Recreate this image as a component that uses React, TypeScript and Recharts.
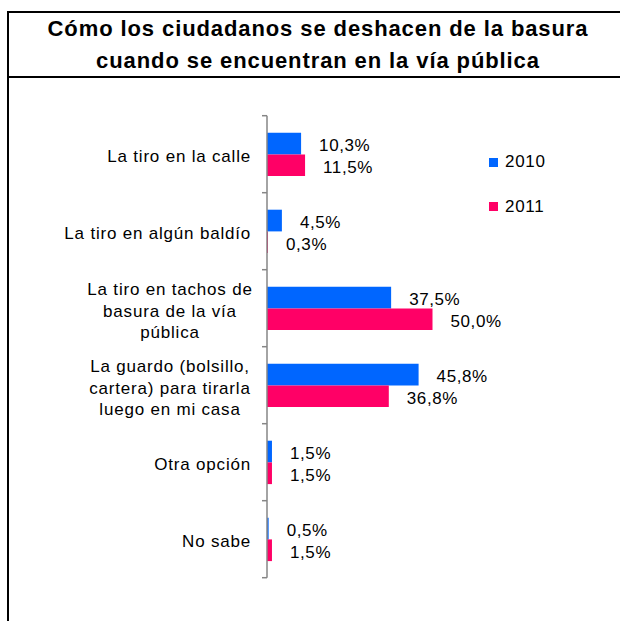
import React from 'react';
import { BarChart, Bar, XAxis, YAxis, Legend, LabelList } from 'recharts';

const titleLines = [
  'Cómo los ciudadanos se deshacen de la basura',
  'cuando se encuentran en la vía pública',
];
const categories = [
  'La tiro en la calle',
  'La tiro en algún baldío',
  'La tiro en tachos de\nbasura de la vía\npública',
  'La guardo (bolsillo,\ncartera) para tirarla\nluego en mi casa',
  'Otra opción',
  'No sabe',
];
const seriesNames = ['2010', '2011'];
const values2010 = [10.3, 4.5, 37.5, 45.8, 1.5, 0.5];
const values2011 = [11.5, 0.3, 50.0, 36.8, 1.5, 1.5];
const seriesColors = ['#0066FF', '#FF0066'];

const data = categories.map((c, i) => ({
  category: c,
  s2010: values2010[i],
  s2011: values2011[i],
}));

const FONT = '"Liberation Sans", Arial, Helvetica, sans-serif';
const W = 620;
const H = 621;
const PLOT_TOP = 115.7;
const PLOT_BOTTOM = 577.7;
const AXIS_X = 267;
const PX_PER_UNIT = 3.31;
const X_MAX = 60;
const PLOT_RIGHT = AXIS_X + X_MAX * PX_PER_UNIT;
const BAND = (PLOT_BOTTOM - PLOT_TOP) / categories.length;

const fmt = (v: number) => v.toFixed(1).replace('.', ',') + '%';

const CategoryTick = (props: any) => {
  const { y, payload, index } = props;
  const lines = String(payload.value).split('\n');
  const lineH = 21.3;
  const multi = lines.length > 1;
  const base = y + 8 + (multi ? 0.5 : 0) - ((lines.length - 1) * lineH) / 2;
  return (
    <g>
      <line x1={AXIS_X - 5} x2={AXIS_X} y1={y - BAND / 2} y2={y - BAND / 2} stroke="#868686" strokeWidth={1.5} />
      {index === categories.length - 1 && (
        <line x1={AXIS_X - 5} x2={AXIS_X} y1={y + BAND / 2} y2={y + BAND / 2} stroke="#868686" strokeWidth={1.5} />
      )}
      {lines.map((ln, i) => (
        <text
          key={i}
          x={multi ? 170 : 251}
          y={base + i * lineH}
          textAnchor={multi ? 'middle' : 'end'}
          fontFamily={FONT}
          fontSize={17}
          letterSpacing={0.8}
          fill="#000"
        >
          {ln}
        </text>
      ))}
    </g>
  );
};

const ValueLabel = (props: any) => {
  const { x, y, width, height, value } = props;
  return (
    <text
      x={x + width + 18}
      y={y + height / 2 + 7.5}
      fontFamily={FONT}
      fontSize={17}
      letterSpacing={0.6}
      fill="#000"
    >
      {fmt(Number(value))}
    </text>
  );
};

const LegendContent = () => (
  <div style={{ fontFamily: FONT, fontSize: 17, letterSpacing: 0.7, color: '#000' }}>
    {seriesNames.map((n, i) => (
      <div
        key={n}
        style={{ display: 'flex', alignItems: 'center', height: 20, marginBottom: i === 0 ? 24.7 : 0, lineHeight: '20px' }}
      >
        <span style={{ display: 'inline-block', width: 8.5, height: 9, background: seriesColors[i], marginRight: 7.5 }} />
        <span>{n}</span>
      </div>
    ))}
  </div>
);

export default function App() {
  return (
    <div style={{ position: 'absolute', left: 0, top: 0, width: W, height: H, overflow: 'hidden', background: '#fff' }}>
      {/* frame */}
      <div style={{ position: 'absolute', left: 7, top: 11, width: 2, height: H - 11, background: '#000' }} />
      <div style={{ position: 'absolute', left: 7, top: 11, width: W - 7, height: 2, background: '#000' }} />
      <div style={{ position: 'absolute', left: 7, top: 76, width: W - 7, height: 2, background: '#000' }} />
      {/* title */}
      <div
        style={{
          position: 'absolute',
          left: 0,
          width: 636,
          top: 13,
          textAlign: 'center',
          fontFamily: FONT,
          fontWeight: 'bold',
          fontSize: 22,
          letterSpacing: 0.9,
          lineHeight: '31.6px',
          color: '#000',
        }}
      >
        {titleLines.map((t) => (
          <div key={t}>{t}</div>
        ))}
      </div>
      <div style={{ position: 'absolute', left: 0, top: 0 }}>
        <BarChart
          width={W}
          height={H}
          data={data}
          layout="vertical"
          barGap={0}
          barSize={21.7}
          margin={{ top: PLOT_TOP, right: W - PLOT_RIGHT, bottom: H - PLOT_BOTTOM, left: 0 }}
        >
          <XAxis type="number" domain={[0, X_MAX]} hide />
          <YAxis
            type="category"
            dataKey="category"
            width={AXIS_X}
            axisLine={{ stroke: '#868686', strokeWidth: 1.5 }}
            tickLine={false}
            tick={<CategoryTick />}
            interval={0}
          />
          <Legend
            layout="vertical"
            align="center"
            verticalAlign="middle"
            wrapperStyle={{ left: 489, top: 152, width: 110 }}
            content={<LegendContent />}
          />
          <Bar dataKey="s2010" name={seriesNames[0]} fill={seriesColors[0]} isAnimationActive={false}>
            <LabelList dataKey="s2010" content={<ValueLabel />} />
          </Bar>
          <Bar dataKey="s2011" name={seriesNames[1]} fill={seriesColors[1]} isAnimationActive={false}>
            <LabelList dataKey="s2011" content={<ValueLabel />} />
          </Bar>
        </BarChart>
      </div>
    </div>
  );
}
